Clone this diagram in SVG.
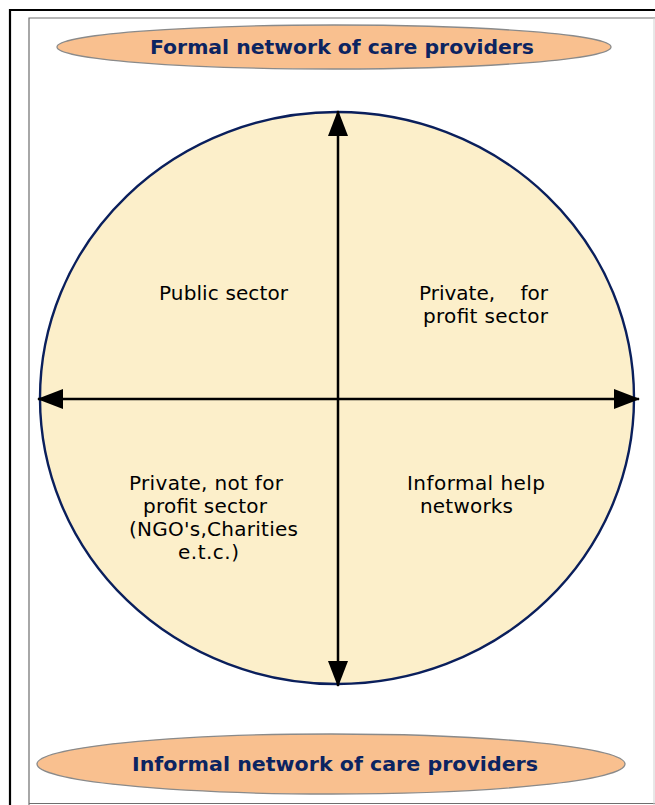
<svg xmlns="http://www.w3.org/2000/svg" width="655" height="805" viewBox="0 0 655 805">
  <style>
    .band { fill: #f9c08f; stroke: #8a8a8a; stroke-width: 1.3; }
    .band-label { font-family: "DejaVu Sans", Verdana, sans-serif; font-weight: bold; font-size: 19px; fill: #0c2461; }
    .quad { font-family: "DejaVu Sans", Verdana, sans-serif; font-size: 20px; fill: #000; }
    .axis { stroke: #000; stroke-width: 2.5; fill: none; }
  </style>
  <defs>
    <marker id="head" viewBox="0 0 26 20" refX="25" refY="10" markerWidth="26" markerHeight="20" markerUnits="userSpaceOnUse" orient="auto-start-reverse">
      <path d="M0,0 L26,10 L0,20 Z" fill="#000"/>
    </marker>
  </defs>

  <rect width="655" height="805" fill="#fff"/>

  <!-- page frames -->
  <path d="M10,805 V10 H655" fill="none" stroke="#000" stroke-width="2.2"/>
  <path d="M29,805 V18 H655" fill="none" stroke="#6e6e6e" stroke-width="1.2"/>
  <line x1="29" y1="803.5" x2="655" y2="803.5" stroke="#6e6e6e" stroke-width="1.2"/>
  <line x1="654" y1="18" x2="654" y2="805" stroke="#d0d0d0" stroke-width="1"/>

  <g id="formal-network">
    <ellipse class="band" cx="334" cy="47" rx="277" ry="22"/>
    <text class="band-label" x="150" y="54" textLength="384" lengthAdjust="spacingAndGlyphs">Formal network of care providers</text>
  </g>

  <g id="sector-circle">
    <ellipse cx="337" cy="398" rx="297" ry="286" fill="#fcefca" stroke="#0a1f5c" stroke-width="2.4"/>
  </g>

  <g id="connectors">
    <line class="axis" x1="338" y1="111" x2="338" y2="686" marker-start="url(#head)" marker-end="url(#head)"/>
    <line class="axis" x1="38" y1="399" x2="639" y2="399" marker-start="url(#head)" marker-end="url(#head)"/>
  </g>

  <g id="public-sector">
    <text class="quad" x="159" y="300" textLength="129">Public sector</text>
  </g>

  <g id="private-for-profit">
    <text class="quad" x="419" y="300">Private,</text>
    <text class="quad" x="548" y="300" text-anchor="end">for</text>
    <text class="quad" x="423" y="323" textLength="125">profit sector</text>
  </g>

  <g id="private-not-for-profit">
    <text class="quad" x="129" y="490" textLength="154">Private, not for</text>
    <text class="quad" x="143" y="513" textLength="124">profit sector</text>
    <text class="quad" x="129" y="536" textLength="169">(NGO's,Charities</text>
    <text class="quad" x="178" y="559" textLength="61">e.t.c.)</text>
  </g>

  <g id="informal-help">
    <text class="quad" x="407" y="490" textLength="138">Informal help</text>
    <text class="quad" x="420" y="513" textLength="93">networks</text>
  </g>

  <g id="informal-network">
    <ellipse class="band" cx="331" cy="764" rx="294" ry="30"/>
    <text class="band-label" x="132" y="771" textLength="406" lengthAdjust="spacingAndGlyphs">Informal network of care providers</text>
  </g>
</svg>
